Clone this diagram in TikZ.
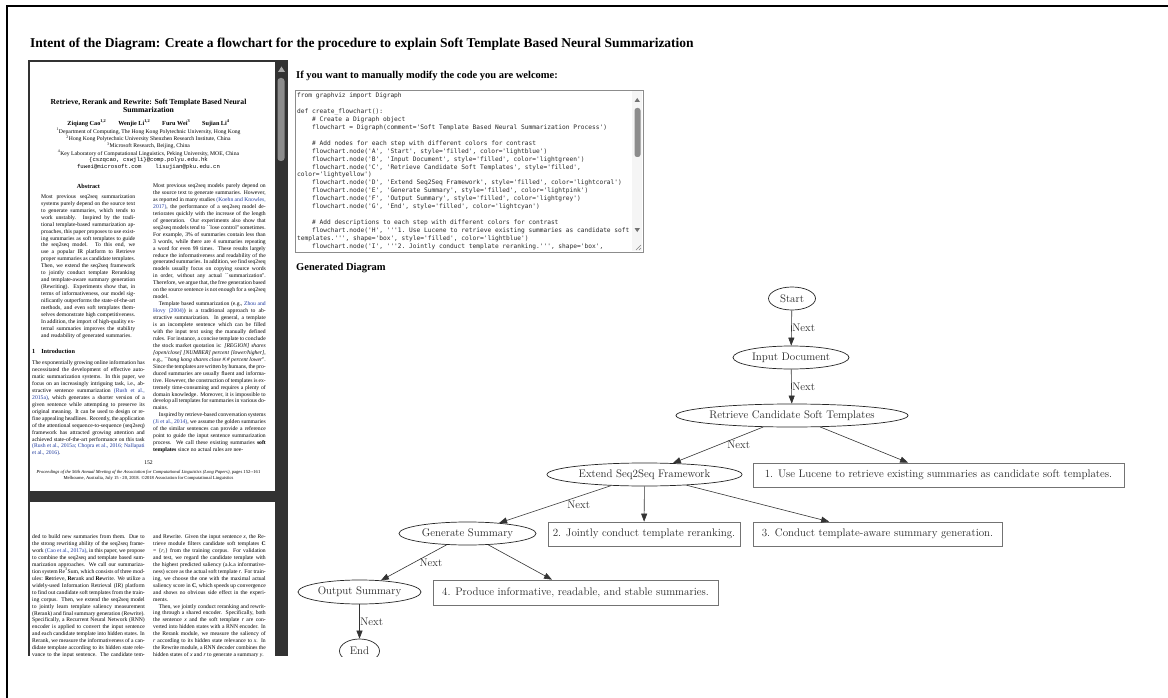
\documentclass[tikz,border=0pt]{standalone}
\usepackage{fontspec}
\setmonofont{DejaVu Sans Mono}
\newfontfamily\timesfont{Liberation Serif}
\newfontfamily\papermono{Liberation Mono}
\usetikzlibrary{arrows.meta, shapes.geometric}

\definecolor{viewerdark}{HTML}{323232}
\definecolor{citeblue}{HTML}{1F3A9E}

\newcommand{\papercol}{\timesfont\fontsize{5.65}{6.95}\selectfont\sloppy}
\newcommand{\citeref}[1]{\textcolor{citeblue}{#1}}
\newcommand{\codeind}{\hphantom{xxxx}}
\newcommand{\pin}{\hspace*{5.6pt}}

\begin{document}
\begin{tikzpicture}[x=1pt, y=-1pt, >={Triangle[length=8pt, width=6pt]},
  stage/.style={ellipse, draw=black!85, line width=0.7pt, inner xsep=-3pt, inner ysep=0pt,
    minimum height=23pt, text=black!85, font=\fontsize{11}{13}\selectfont},
  note/.style={rectangle, draw=black!55, line width=0.7pt, inner sep=0pt,
    minimum height=24pt, text=black!85, font=\fontsize{11}{13}\selectfont},
  flow/.style={->, draw=black!80, line width=0.6pt},
  nextlbl/.style={anchor=west, inner sep=0pt, text=black!85, font=\fontsize{11}{13}\selectfont},
  headline/.style={anchor=west, inner sep=0pt, font=\timesfont\bfseries\fontsize{10.5}{12}\selectfont},
  column/.style={anchor=north west, inner sep=0pt, text width=112.6pt, align=justify, font=\papercol}]

  \useasboundingbox (0,0) rectangle (1168,698);
  \fill[white] (0,0) rectangle (1168,698);
  \draw[line width=1.3pt] (7,698) -- (7,6) -- (1168,6);

  \node[headline, font=\timesfont\bfseries\fontsize{13.5}{15}\selectfont] (intent) at (30,44)
    {Intent of the Diagram: Create a flowchart for the procedure to explain Soft Template Based Neural Summarization};
  \node[headline] (modhint) at (296,76) {If you want to manually modify the code you are welcome:};
  \node[headline] (gendiag) at (296,268) {Generated Diagram};

  % paper viewer
  \fill[viewerdark] (28,60) rectangle (288,656);
  \fill[white] (30,62) rectangle (275,491);
  \fill[white] (30,502) rectangle (275,656);
  \fill[black!45, rounded corners=3pt] (277.5,78) rectangle (284.5,161);
  \fill[black!35] (278,72) -- (285,72) -- (281.5,66.5) -- cycle;

  \node[anchor=north, inner sep=0pt, align=center, font=\timesfont\bfseries\fontsize{7.7}{8.3}\selectfont] (ptitle) at (148.5,98.5)
    {Retrieve, Rerank and Rewrite: Soft Template Based Neural\\Summarization};
  \node[inner sep=0pt, font=\timesfont\bfseries\fontsize{6.2}{7}\selectfont] (pauthors) at (148.5,123)
    {Ziqiang Cao\textsuperscript{1,2}\hspace{12pt}Wenjie Li\textsuperscript{1,2}\hspace{12pt}Furu Wei\textsuperscript{3}\hspace{12pt}Sujian Li\textsuperscript{4}};
  \node[anchor=north, inner sep=0pt, align=center, font=\timesfont\fontsize{5.65}{7.3}\selectfont] (paffil) at (148.5,128)
    {\textsuperscript{1}Department of Computing, The Hong Kong Polytechnic University, Hong Kong\\
     \textsuperscript{2}Hong Kong Polytechnic University Shenzhen Research Institute, China\\
     \textsuperscript{3}Microsoft Research, Beijing, China\\
     \textsuperscript{4}Key Laboratory of Computational Linguistics, Peking University, MOE, China};
  \node[anchor=north, inner sep=0pt, align=center, font=\papermono\fontsize{5.65}{7.2}\selectfont] (pmail) at (148.5,157.5)
    {\{cszqcao, cswjli\}@comp.polyu.edu.hk\\fuwei@microsoft.com\hspace{14pt}lisujian@pku.edu.cn};
  \node[inner sep=0pt, font=\timesfont\bfseries\fontsize{6.2}{7}\selectfont] (pabshead) at (88.5,186) {Abstract};
  \node[column, text width=94pt] (pabstract) at (41,194.4)
    {Most previous seq2seq summarization systems purely depend on the source text to generate summaries, which tends to work unstably. Inspired by the traditional template-based summarization approaches, this paper proposes to use existing summaries as soft templates to guide the seq2seq model. To this end, we use a popular IR platform to Retrieve proper summaries as candidate templates. Then, we extend the seq2seq framework to jointly conduct template Reranking and template-aware summary generation (Rewriting). Experiments show that, in terms of informativeness, our model significantly outperforms the state-of-the-art methods, and even soft templates themselves demonstrate high competitiveness. In addition, the import of high-quality external summaries improves the stability and readability of generated summaries.};
  \node[anchor=west, inner sep=0pt, font=\timesfont\bfseries\fontsize{6.2}{7}\selectfont] (pintrohead) at (32,351) {1\hspace{6pt}Introduction};
  \node[column] (pintro) at (32,360.4)
    {The exponentially growing online information has necessitated the development of effective automatic summarization systems. In this paper, we focus on an increasingly intriguing task, i.e., abstractive sentence summarization \citeref{(Rush et al., 2015a)}, which generates a shorter version of a given sentence while attempting to preserve its original meaning. It can be used to design or refine appealing headlines. Recently, the application of the attentional sequence-to-sequence (seq2seq) framework has attracted growing attention and achieved state-of-the-art performance on this task \citeref{(Rush et al., 2015a; Chopra et al., 2016; Nallapati et al., 2016)}.};
  \node[column] (pright) at (153,183.4)
    {Most previous seq2seq models purely depend on the source text to generate summaries. However, as reported in many studies \citeref{(Koehn and Knowles, 2017)}, the performance of a seq2seq model deteriorates quickly with the increase of the length of generation. Our experiments also show that seq2seq models tend to ``lose control'' sometimes. For example, 3\% of summaries contain less than 3 words, while there are 4 summaries repeating a word for even 99 times. These results largely reduce the informativeness and readability of the generated summaries. In addition, we find seq2seq models usually focus on copying source words in order, without any actual ``summarization''. Therefore, we argue that, the free generation based on the source sentence is not enough for a seq2seq model.\par
     \pin Template based summarization (e.g., \citeref{Zhou and Hovy (2004)}) is a traditional approach to abstractive summarization. In general, a template is an incomplete sentence which can be filled with the input text using the manually defined rules. For instance, a concise template to conclude the stock market quotation is: \textit{[REGION] shares [open/close] [NUMBER] percent [lower/higher]}, e.g., ``\textit{hong kong shares close \#.\# percent lower}''. Since the templates are written by humans, the produced summaries are usually fluent and informative. However, the construction of templates is extremely time-consuming and requires a plenty of domain knowledge. Moreover, it is impossible to develop all templates for summaries in various domains.\par
     \pin Inspired by retrieve-based conversation systems \citeref{(Ji et al., 2014)}, we assume the golden summaries of the similar sentences can provide a reference point to guide the input sentence summarization process. We call these existing summaries \textbf{soft templates} since no actual rules are nee-};
  \node[inner sep=0pt, font=\timesfont\fontsize{5.65}{7}\selectfont] (pnum) at (148.5,463) {152};
  \node[inner sep=0pt, align=center, font=\timesfont\fontsize{4.6}{5.9}\selectfont] (pproc) at (148.5,475)
    {\textit{Proceedings of the 56th Annual Meeting of the Association for Computational Linguistics (Long Papers)}, pages 152--161\\
     Melbourne, Australia, July 15 - 20, 2018. \textcopyright 2018 Association for Computational Linguistics};

  \begin{scope}
    \clip (30,502) rectangle (275,656);
    \node[column] (pcont) at (32,534.4)
      {ded to build new summaries from them. Due to the strong rewriting ability of the seq2seq framework \citeref{(Cao et al., 2017a)}, in this paper, we propose to combine the seq2seq and template based summarization approaches. We call our summarization system Re\textsuperscript{3}Sum, which consists of three modules: \textbf{Re}trieve, \textbf{Re}rank and \textbf{Re}write. We utilize a widely-used Information Retrieval (IR) platform to find out candidate soft templates from the training corpus. Then, we extend the seq2seq model to jointly learn template saliency measurement (Rerank) and final summary generation (Rewrite). Specifically, a Recurrent Neural Network (RNN) encoder is applied to convert the input sentence and each candidate template into hidden states. In Rerank, we measure the informativeness of a candidate template according to its hidden state relevance to the input sentence. The candidate template with the highest predicted informativeness};
    \node[column] (prcont) at (153,534.4)
      {and Rewrite. Given the input sentence \textit{x}, the Retrieve module filters candidate soft templates \textbf{C} = \{\textit{r}\textsubscript{\textit{i}}\} from the training corpus. For validation and test, we regard the candidate template with the highest predicted saliency (a.k.a informativeness) score as the actual soft template \textit{r}. For training, we choose the one with the maximal actual saliency score in \textbf{C}, which speeds up convergence and shows no obvious side effect in the experiments.\par
       \pin Then, we jointly conduct reranking and rewriting through a shared encoder. Specifically, both the sentence \textit{x} and the soft template \textit{r} are converted into hidden states with a RNN encoder. In the Rerank module, we measure the saliency of \textit{r} according to its hidden state relevance to \textit{x}. In the Rewrite module, a RNN decoder combines the hidden states of \textit{x} and \textit{r} to generate a summary \textit{y}.};
  \end{scope}

  % code box
  \draw[draw=black!45, line width=0.8pt] (295,90) rectangle (643,252);
  \fill[black!4] (632,91) rectangle (642,251);
  \fill[black!45, rounded corners=2.5pt] (634.5,108) rectangle (640.5,157);
  \fill[black!55] (634.5,102) -- (640,102) -- (637.25,98) -- cycle;
  \fill[black!55] (634.5,228) -- (640,228) -- (637.25,232) -- cycle;
  \draw[black!50, line width=0.5pt] (636,250) -- (641,245) (639,250) -- (641,248);
  \node[anchor=north west, inner sep=0pt, align=left, text=black!85, font=\ttfamily\fontsize{6.2}{7.9}\selectfont] (code) at (297,93)
    {from graphviz import Digraph\\
     \mbox{}\\
     def create\_flowchart():\\
     \codeind\# Create a Digraph object\\
     \codeind flowchart = Digraph(comment='Soft Template Based Neural Summarization Process')\\
     \mbox{}\\
     \codeind\# Add nodes for each step with different colors for contrast\\
     \codeind flowchart.node('A', 'Start', style='filled', color='lightblue')\\
     \codeind flowchart.node('B', 'Input Document', style='filled', color='lightgreen')\\
     \codeind flowchart.node('C', 'Retrieve Candidate Soft Templates', style='filled',\\
     color='lightyellow')\\
     \codeind flowchart.node('D', 'Extend Seq2Seq Framework', style='filled', color='lightcoral')\\
     \codeind flowchart.node('E', 'Generate Summary', style='filled', color='lightpink')\\
     \codeind flowchart.node('F', 'Output Summary', style='filled', color='lightgrey')\\
     \codeind flowchart.node('G', 'End', style='filled', color='lightcyan')\\
     \mbox{}\\
     \codeind\# Add descriptions to each step with different colors for contrast\\
     \codeind flowchart.node('H', '''1. Use Lucene to retrieve existing summaries as candidate soft\\
     templates.''', shape='box', style='filled', color='lightblue')\\
     \codeind flowchart.node('I', '''2. Jointly conduct template reranking.''', shape='box',};

  % flowchart
  \node[stage, minimum width=47pt] (start) at (792,298.5) {Start};
  \node[stage, minimum width=116pt] (input) at (791,357.5) {Input Document};
  \node[stage, minimum width=232pt] (retrieve) at (792,415.5) {Retrieve Candidate Soft Templates};
  \node[stage, minimum width=195pt] (extend) at (644.5,474.5) {Extend Seq2Seq Framework};
  \node[stage, minimum width=137pt] (generate) at (467.5,533.5) {Generate Summary};
  \node[stage, minimum width=123pt, minimum height=24pt] (output) at (359.5,592) {Output Summary};
  \begin{scope}
    \clip (320,630) rectangle (400,656);
    \node[stage, minimum width=40pt, minimum height=24pt] (end) at (359.5,651) {End};
  \end{scope}
  \node[note, minimum width=371pt] (lucene) at (938.5,475) {1. Use Lucene to retrieve existing summaries as candidate soft templates.};
  \node[note, minimum width=192pt] (rerank) at (644,534) {2. Jointly conduct template reranking.};
  \node[note, minimum width=249pt] (rewrite) at (877.5,534) {3. Conduct template-aware summary generation.};
  \node[note, minimum width=285pt, minimum height=25pt] (produce) at (575.5,592.5) {4. Produce informative, readable, and stable summaries.};

  \foreach \a/\b/\dx in {start/input/0.5, input/retrieve/0.5, retrieve/extend/9, extend/generate/12, generate/output/5.5, output/end/0.5}
    \draw[flow] (\a) -- (\b) node[nextlbl, midway, xshift=\dx] (next\a) {Next};
  \foreach \a/\b in {retrieve/lucene, extend/rerank, extend/rewrite, generate/produce}
    \draw[flow] (\a) -- (\b);

\end{tikzpicture}
\end{document}
